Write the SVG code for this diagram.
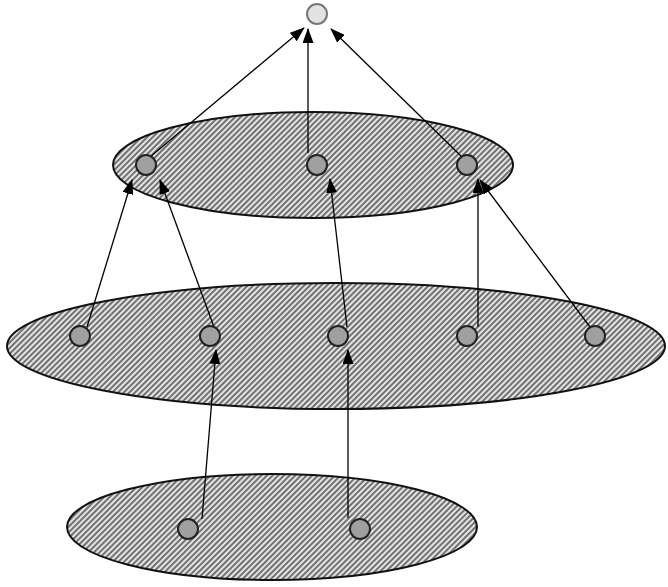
<svg xmlns="http://www.w3.org/2000/svg" width="668" height="587" viewBox="0 0 668 587">
<defs>
<pattern id="hatch" width="4" height="4" patternUnits="userSpaceOnUse" patternTransform="rotate(45)">
<rect width="4" height="4" fill="#e4e4e4"/>
<line x1="1" y1="0" x2="1" y2="4" stroke="#333" stroke-width="1.3"/>
</pattern>
<marker id="ah" markerWidth="15" markerHeight="11" refX="14" refY="5.5" orient="auto" markerUnits="userSpaceOnUse">
<path d="M0,0 L15,5.5 L0,11 Z" fill="#000"/>
</marker>
<style>
.layer{fill:url(#hatch);stroke:#111;stroke-width:2}
.node{fill:#a0a0a0;stroke:#222;stroke-width:2}
.top{fill:#e2e2e2;stroke:#777;stroke-width:2}
.edge{stroke:#000;stroke-width:1.3;fill:none;marker-end:url(#ah)}
</style>
</defs>
<g id="layers">
<ellipse id="layer1" class="layer" cx="313" cy="165" rx="200" ry="53"/>
<ellipse id="layer2" class="layer" cx="336" cy="346" rx="329" ry="63"/>
<ellipse id="layer3" class="layer" cx="272" cy="527" rx="205" ry="53"/>
</g>
<g id="connectors">
<line class="edge" x1="150" y1="157" x2="304" y2="28"/>
<line class="edge" x1="308" y1="153" x2="308" y2="29"/>
<line class="edge" x1="461" y1="156" x2="331" y2="29"/>
<line class="edge" x1="87" y1="327" x2="132" y2="180"/>
<line class="edge" x1="214" y1="327" x2="160" y2="180"/>
<line class="edge" x1="347" y1="327" x2="330" y2="179"/>
<line class="edge" x1="478" y1="327" x2="478" y2="179"/>
<line class="edge" x1="590" y1="327" x2="480" y2="180"/>
<line class="edge" x1="202" y1="519" x2="216" y2="350"/>
<line class="edge" x1="348" y1="518" x2="348" y2="350"/>
</g>
<g id="n0"><circle class="top" cx="317" cy="14" r="10"/></g>
<g id="n1"><circle class="node" cx="146" cy="165" r="10"/></g>
<g id="n2"><circle class="node" cx="317" cy="165" r="10"/></g>
<g id="n3"><circle class="node" cx="467" cy="165" r="10"/></g>
<g id="n4"><circle class="node" cx="80" cy="336" r="10"/></g>
<g id="n5"><circle class="node" cx="210" cy="336" r="10"/></g>
<g id="n6"><circle class="node" cx="338" cy="336" r="10"/></g>
<g id="n7"><circle class="node" cx="467" cy="336" r="10"/></g>
<g id="n8"><circle class="node" cx="595" cy="336" r="10"/></g>
<g id="n9"><circle class="node" cx="188" cy="529" r="10"/></g>
<g id="n10"><circle class="node" cx="360" cy="529" r="10"/></g>
</svg>
